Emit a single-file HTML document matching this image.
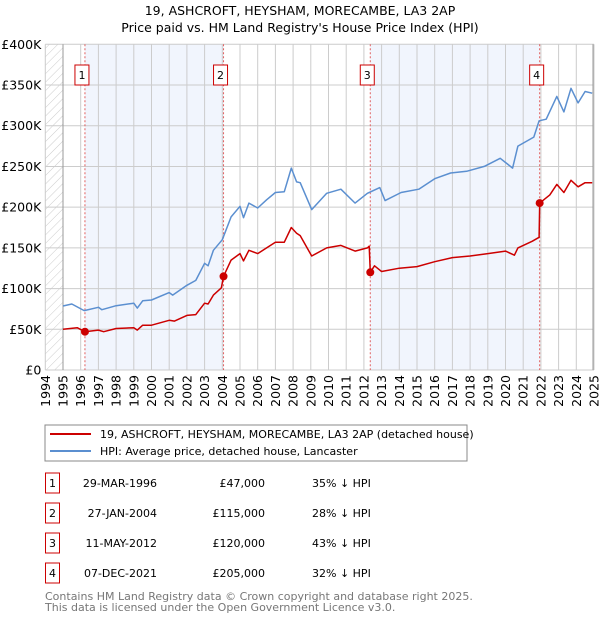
<!DOCTYPE html>
<html><head><meta charset="utf-8"><style>
body{margin:0;background:#fff;width:600px;height:620px;overflow:hidden}
svg{font-family:"DejaVu Sans","Liberation Sans",sans-serif}
</style></head><body>
<svg id="c" width="600" height="620" xmlns="http://www.w3.org/2000/svg">
<defs><pattern id="hatch" width="6" height="6" patternUnits="userSpaceOnUse" patternTransform="rotate(45)"><line x1="0" y1="0" x2="0" y2="6" stroke="#ccc" stroke-width="1"/></pattern></defs>
<text x="300" y="15" text-anchor="middle" font-size="12.5">19, ASHCROFT, HEYSHAM, MORECAMBE, LA3 2AP</text>
<text x="300" y="32" text-anchor="middle" font-size="12.5">Price paid vs. HM Land Registry's House Price Index (HPI)</text>
<g id="plot"></g>
<g>
<rect x="45" y="425" width="422" height="36" fill="#fff" stroke="#888"/>
<line x1="50" y1="434" x2="91" y2="434" stroke="#cc0000" stroke-width="2"/>
<text x="100" y="438" font-size="11">19, ASHCROFT, HEYSHAM, MORECAMBE, LA3 2AP (detached house)</text>
<line x1="50" y1="451" x2="91" y2="451" stroke="#5b8fd0" stroke-width="2"/>
<text x="100" y="455" font-size="11">HPI: Average price, detached house, Lancaster</text>
</g>
<g id="table" font-size="11"></g>
<text x="45" y="600" font-size="11" fill="#777">Contains HM Land Registry data © Crown copyright and database right 2025.</text>
<text x="45" y="611" font-size="11" fill="#777">This data is licensed under the Open Government Licence v3.0.</text>
</svg>
<script>
const hpiYears=[1995,1995.5,1996.2,1997,1997.2,1998,1999,1999.2,1999.5,2000,2001,2001.2,2002,2002.5,2003,2003.2,2003.5,2004,2004.5,2005,2005.2,2005.5,2006,2006.5,2007,2007.5,2007.9,2008.2,2008.4,2009.05,2009.9,2010.7,2011.5,2012.2,2012.9,2013.2,2014.1,2015.1,2016,2016.9,2017.8,2018.8,2019.7,2020.4,2020.7,2021.6,2021.9,2022.3,2022.9,2023.3,2023.7,2024.1,2024.5,2024.9];
const hpiValues=[78.6,81,73,77,74,79,82,76,85,86,95,92,104,110,131,128,147,160,188,201,187,205,199,209,218,219,248,231,230,197,217,222,205,217,224,208,218,222,235,242,244,250,260,248,275,286,306,308,336,317,346,328,342,340];
const ppYears=[1995,1995.8,1996.24,1997,1997.3,1998,1999,1999.2,1999.5,2000,2001,2001.3,2002,2002.5,2003,2003.2,2003.5,2003.95,2004.07,2004.5,2005,2005.2,2005.5,2006,2006.5,2007,2007.5,2007.9,2008.2,2008.4,2009.05,2009.9,2010.7,2011.5,2012.2,2012.3,2012.36,2012.6,2013,2014,2015,2016,2017,2018,2019,2020,2020.5,2020.7,2021.5,2021.9,2021.93,2022.5,2022.9,2023.3,2023.7,2024.1,2024.5,2024.9];
const ppValues=[50,52,47,49,47,51,52,49,55,55,61,60,67,68,82,81,92,101,115,135,143,134,147,143,150,157,157,175,168,165,140,150,153,146,150,152,120,128,121,125,127,133,138,140,143,146,141,150,158,163,205,215,228,218,233,225,230,230];
const saleYears=[1996.24,2004.07,2012.36,2021.93];
const saleValues=[47,115,120,205];
const saleLabels=["1","2","3","4"];
const saleDates=["29-MAR-1996","27-JAN-2004","11-MAY-2012","07-DEC-2021"];
const salePrices=["£47,000","£115,000","£120,000","£205,000"];
const saleDiffs=["35% ↓ HPI","28% ↓ HPI","43% ↓ HPI","32% ↓ HPI"];
const yTicks=[0,50,100,150,200,250,300,350,400];
const yTickLabels=["£0","£50K","£100K","£150K","£200K","£250K","£300K","£350K","£400K"];
const xTicks=[1994,1995,1996,1997,1998,1999,2000,2001,2002,2003,2004,2005,2006,2007,2008,2009,2010,2011,2012,2013,2014,2015,2016,2017,2018,2019,2020,2021,2022,2023,2024,2025];

const X0=45.3,X1=594,Y0=370,Y1=44.3;
const xs=y=>X0+(y-1994)/31*(X1-X0);
const ys=v=>Y0-v/400*(Y0-Y1);
const NS="http://www.w3.org/2000/svg";
const plot=document.getElementById('plot');
function mk(tag,attrs,parent){const e=document.createElementNS(NS,tag);for(const k in attrs)e.setAttribute(k,attrs[k]);(parent||plot).appendChild(e);return e;}

for(let i=0;i<4;i+=2){
  const r=mk('rect',{x:xs(saleYears[i]),y:Y1,width:xs(saleYears[i+1])-xs(saleYears[i]),height:Y0-Y1,fill:'#eef3fd',opacity:0.8});
  
  
}
const hz=mk('rect',{x:X0,y:Y1,width:xs(1995)-X0,height:Y0-Y1,fill:'url(#hatch)'});


xTicks.forEach((t,i)=>{
  const l=mk('line',{x1:xs(t),x2:xs(t),y1:Y1,y2:Y0,stroke:'#ccc','stroke-width':1});
  
  
  const tx=mk('text',{x:0,y:0,'font-size':12.5,'text-anchor':'end',transform:`translate(${xs(t)+4.5},${Y0+5}) rotate(-90)`});
  tx.textContent=t;
  
  
});
yTicks.forEach((t,i)=>{
  const l=mk('line',{x1:X0,x2:X1,y1:ys(t),y2:ys(t),stroke:'#ccc','stroke-width':1});
  
  
  const tx=mk('text',{x:X0-4,y:ys(t)+4.5,'font-size':12.5,'text-anchor':'end'});
  tx.textContent=yTickLabels[i];
  
  
});
const ax=mk('line',{x1:xs(1995),x2:xs(1995),y1:Y1,y2:Y0,stroke:'#999'});


const ax2=mk('line',{x1:X1-1,x2:X1-1,y1:Y1,y2:Y0,stroke:'#999'});


saleYears.forEach((s,i)=>{
  const l=mk('line',{x1:xs(s),x2:xs(s),y1:Y1,y2:Y0,stroke:'#e06060','stroke-dasharray':'2,2'});
  
  
  const b=mk('rect',{x:xs(s)-10,y:65,width:14,height:20,fill:'#fff',stroke:'#cc0000'});
  
  
  const t=mk('text',{x:xs(s)-3,y:79,'font-size':11,'text-anchor':'middle'});
  t.textContent=saleLabels[i];
  
  
});
function line(xa,va,col,name){
  const d=xa.map((x,i)=>(i?'L':'M')+xs(x).toFixed(1)+','+ys(va[i]).toFixed(1)).join('');
  const p=mk('path',{d:d,fill:'none',stroke:col,'stroke-width':1.5,'stroke-linejoin':'round'});
  
  
}
line(hpiYears,hpiValues,'#5b8fd0','hpi-line');
line(ppYears,ppValues,'#cc0000','price-paid-line');
saleYears.forEach((s,i)=>{
  const c=mk('circle',{cx:xs(s),cy:ys(saleValues[i]),r:4,fill:'#cc0000'});
  
  
});
const tb=document.getElementById('table');
saleLabels.forEach((lab,i)=>{
  const cy=483+i*30;
  const b=mk('rect',{x:45.5,y:cy-10,width:14,height:20,fill:'#fff',stroke:'#cc0000'},tb);
  
  
  const specs=[[52.5,lab,'middle'],[157,saleDates[i],'end'],[265,salePrices[i],'end'],[312,saleDiffs[i],'start']];
  specs.forEach(([x,txt,a],j)=>{
    const t=mk('text',{x:x,y:cy+4,'text-anchor':a},tb);
    t.textContent=txt;
    
    
  });
});
</script>
</body></html>
